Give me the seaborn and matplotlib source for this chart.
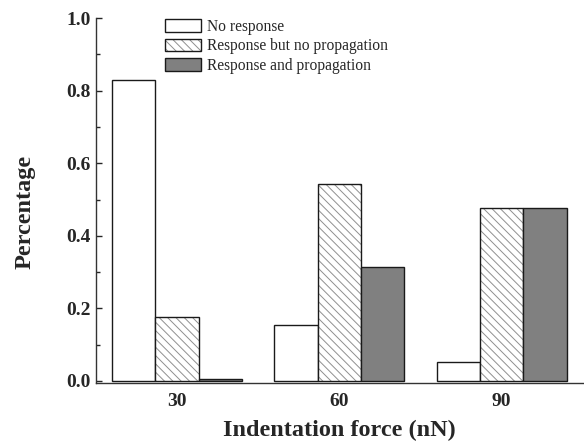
import matplotlib
matplotlib.use("Agg")
import matplotlib.pyplot as plt
import seaborn as sns
import pandas as pd
from matplotlib.ticker import MultipleLocator
from matplotlib.colors import to_rgba

forces = ["30", "60", "90"]
series = ["No response", "Response but no propagation", "Response and propagation"]
no_response = [0.83, 0.155, 0.053]
resp_no_prop = [0.175, 0.543, 0.477]
resp_prop = [0.005, 0.313, 0.477]

rows = []
for s, vals in zip(series, [no_response, resp_no_prop, resp_prop]):
    for f, v in zip(forces, vals):
        rows.append({"force": f, "series": s, "value": v})
df = pd.DataFrame(rows)

sns.set_style("ticks")
plt.rcParams["font.family"] = ["Liberation Serif", "DejaVu Serif"]
plt.rcParams["hatch.linewidth"] = 0.7
plt.rcParams["hatch.color"] = "#8f8f8f"

fig = plt.figure(figsize=(5.84, 4.43), dpi=100)
ax = fig.add_axes([0.164, 0.1354, 0.834, 0.8236])

palette = {series[0]: "white", series[1]: "white", series[2]: "#808080"}
sns.barplot(data=df, x="force", y="value", hue="series", order=forces,
            hue_order=series, palette=palette, width=0.8, saturation=1,
            edgecolor="#1a1a1a", linewidth=1.0, legend=False, ax=ax)

hatch_col = "#8f8f8f"
for bar in ax.containers[1]:
    bar.set_hatch("\\\\\\\\")
    if hasattr(bar, "set_hatchcolor"):
        bar.set_hatchcolor(hatch_col)
    else:
        bar._hatch_color = to_rgba(hatch_col)

ax.set_ylim(-0.006, 1.0)
ax.set_xlim(-0.5, 2.5)
ax.yaxis.set_major_locator(MultipleLocator(0.2))
ax.yaxis.set_minor_locator(MultipleLocator(0.1))
ax.tick_params(axis="y", which="both", direction="in", length=4, width=1, labelsize=14)
ax.tick_params(axis="y", which="minor", length=3)
ax.tick_params(axis="x", length=0, labelsize=14, pad=7)
ax.set_yticks([0.0, 0.2, 0.4, 0.6, 0.8, 1.0])
ax.set_yticklabels(["0.0", "0.2", "0.4", "0.6", "0.8", "1.0"], fontweight="bold")
for lab in ax.get_xticklabels():
    lab.set_fontweight("bold")

ax.spines["top"].set_visible(False)
ax.spines["right"].set_visible(False)
ax.spines["left"].set_bounds(-0.006, 1.0)
for sp in ["left", "bottom"]:
    ax.spines[sp].set_linewidth(1.0)
    ax.spines[sp].set_color("#333333")

ax.set_xlabel("Indentation force (nN)", fontsize=17.5, fontweight="bold", labelpad=7)
ax.set_ylabel("Percentage", fontsize=17.5, fontweight="bold")
ax.yaxis.set_label_coords(-0.123, 0.47)

leg = ax.legend(ax.containers, series, loc="upper left", bbox_to_anchor=(0.143, 0.998),
                frameon=False, fontsize=11.2, handlelength=2.3, handleheight=0.85,
                labelspacing=0.22, handletextpad=0.4, borderaxespad=0, borderpad=0)

fig.savefig("out.png", dpi=100)
